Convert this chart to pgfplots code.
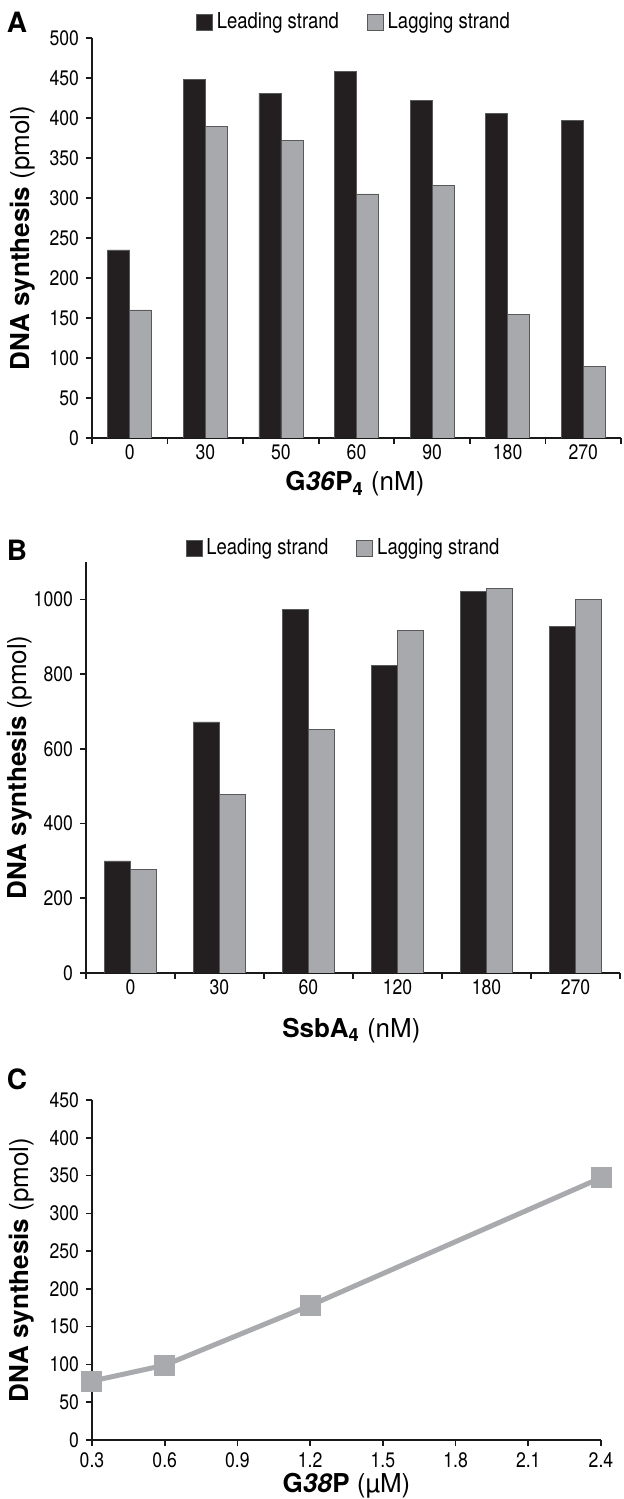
\documentclass[border=0pt]{standalone}
\usepackage{fontspec}
\setmainfont{TeX Gyre Heros}
\newfontfamily\condensed{TeX Gyre Heros}[FakeStretch=0.84]
\usepackage{pgfplots}
\pgfplotsset{compat=1.18}

\definecolor{barblack}{HTML}{231F20}
\definecolor{bargray}{HTML}{A7A9AC}
\definecolor{edge}{HTML}{58595B}
\definecolor{linegray}{HTML}{A9AAAD}

\pgfplotsset{
  panel/.style={
    scale only axis,
    axis lines=left,
    axis line style={-, line width=1pt, black!90},
    tick align=outside,
    major tick length=3pt,
    tick style={line width=0.8pt, black!90},
    tick label style={font=\condensed\fontsize{10.5}{12}\selectfont},
    label style={font=\fontsize{13}{15}\selectfont},
    /pgf/number format/assume math mode=true,
    /pgf/number format/1000 sep={},
  },
  barpanel/.style={
    panel,
    ybar=0pt,
    xticklabels={},
    extra x tick style={tick style={draw=none},
      xticklabel style={yshift=3pt}},
    legend style={draw=none, fill=none, legend columns=2,
      font=\condensed\fontsize{11}{13}\selectfont,
      /tikz/every even column/.append style={column sep=12pt}},
    legend image code/.code={\draw[#1] (0pt,-4pt) rectangle (8pt,4pt);},
  },
}

\begin{document}
\begin{tikzpicture}
\useasboundingbox (0,0) rectangle (311.5pt,749.5pt);

% panel A
\begin{axis}[barpanel,
  at={(46pt,530.5pt)}, anchor=south west,
  width=264.5pt, height=200pt,
  xmin=-0.5, xmax=6.5, ymin=0, ymax=500,
  bar width=11pt,
  xtick={-0.5,0.5,1.5,2.5,3.5,4.5,5.5,6.5},
  extra x ticks={0,1,2,3,4,5,6},
  extra x tick labels={0,30,50,60,90,180,270},
  ytick={0,50,...,500},
  ylabel={\textbf{DNA synthesis} (pmol)},
  ylabel style={at={(axis description cs:-0.132,0.5)}, anchor=center},
  xlabel={\textbf{G\textit{36}P\textsubscript{4}} (nM)},
  xlabel style={at={(axis description cs:0.497,-0.115)}, anchor=center},
  legend style={at={(0.497,1.04)}, anchor=center},
]
\addplot[fill=barblack, draw=edge, line width=0.4pt] coordinates
  {(0,235) (1,448) (2,431) (3,458) (4,422) (5,406) (6,397)};
\addplot[fill=bargray, draw=edge, line width=0.4pt] coordinates
  {(0,160) (1,389) (2,372) (3,305) (4,316) (5,154) (6,89)};
\legend{Leading strand, Lagging strand}
\end{axis}

% panel B
\begin{axis}[barpanel,
  at={(43pt,263pt)}, anchor=south west,
  width=267pt, height=205.5pt,
  xmin=-0.5, xmax=5.5, ymin=0, ymax=1100,
  bar width=13pt,
  xtick={-0.5,0.5,1.5,2.5,3.5,4.5,5.5},
  extra x ticks={0,1,2,3,4,5},
  extra x tick labels={0,30,60,120,180,270},
  ytick={0,200,...,1000},
  ylabel={\textbf{DNA synthesis} (pmol)},
  ylabel style={at={(axis description cs:-0.124,0.5)}, anchor=center},
  xlabel={\textbf{SsbA\textsubscript{4}} (nM)},
  xlabel style={at={(axis description cs:0.497,-0.139)}, anchor=center},
  legend style={at={(0.484,1.034)}, anchor=center},
]
\addplot[fill=barblack, draw=edge, line width=0.4pt] coordinates
  {(0,300) (1,672) (2,972) (3,822) (4,1022) (5,927)};
\addplot[fill=bargray, draw=edge, line width=0.4pt] coordinates
  {(0,278) (1,477) (2,652) (3,917) (4,1030) (5,1000)};
\legend{Leading strand, Lagging strand}
\end{axis}

% panel C
\begin{axis}[panel,
  at={(46pt,29.5pt)}, anchor=south west,
  width=254.5pt, height=170pt,
  xmin=0.3, xmax=2.4, ymin=0, ymax=450,
  xtick={0.3,0.6,0.9,1.2,1.5,1.8,2.1,2.4},
  ytick={0,50,...,450},
  xticklabel style={/pgf/number format/fixed, /pgf/number format/precision=1,
    /pgf/number format/fixed zerofill},
  clip=false,
  ylabel={\textbf{DNA synthesis} (pmol)},
  ylabel style={at={(axis description cs:-0.1375,0.5)}, anchor=center},
  xlabel={\textbf{G\textit{38}P} (µM)},
  xlabel style={at={(axis description cs:0.5,-0.135)}, anchor=center},
]
\addplot[color=linegray, line width=2.5pt, mark=square*, mark size=4pt,
  mark options={solid}] coordinates
  {(0.3,78) (0.6,99) (1.2,178) (2.4,347)};
\end{axis}

\node[font=\bfseries\fontsize{14}{16}\selectfont] at (8.5pt,738.5pt) {A};
\node[font=\bfseries\fontsize{14}{16}\selectfont] at (8.5pt,474.5pt) {B};
\node[font=\bfseries\fontsize{14}{16}\selectfont] at (8.5pt,210pt) {C};
\end{tikzpicture}
\end{document}
